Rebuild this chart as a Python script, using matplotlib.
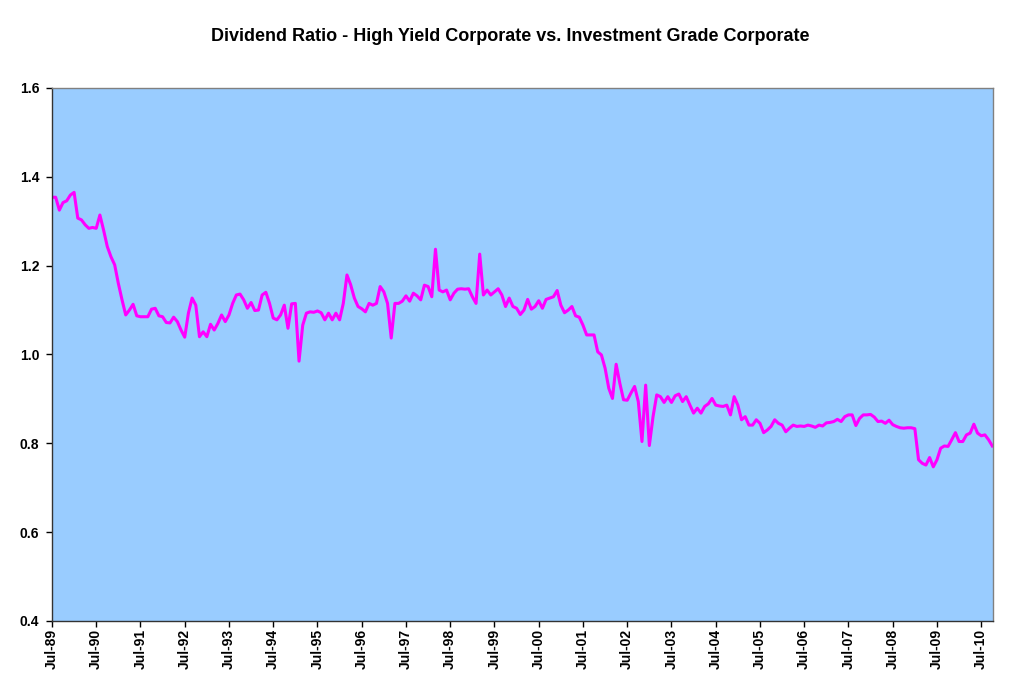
import matplotlib
matplotlib.use("Agg")
import matplotlib.pyplot as plt
import numpy as np

plt.rcParams['font.family'] = ['Liberation Sans', 'DejaVu Sans']

# Monthly dividend ratio, Jul-89 .. Oct-10
ratio = [
    1.354, 1.354, 1.325, 1.342, 1.346, 1.359, 1.365, 1.307, 1.303, 1.292, 1.284, 1.286,
    1.284, 1.314, 1.280, 1.243, 1.220, 1.202, 1.160, 1.123, 1.089, 1.100, 1.113, 1.087,
    1.085, 1.085, 1.085, 1.102, 1.104, 1.087, 1.085, 1.072, 1.071, 1.084, 1.074, 1.055,
    1.039, 1.093, 1.127, 1.111, 1.040, 1.051, 1.040, 1.068, 1.055, 1.070, 1.089, 1.074,
    1.089, 1.115, 1.134, 1.136, 1.123, 1.104, 1.117, 1.099, 1.100, 1.134, 1.140, 1.115,
    1.082, 1.078, 1.089, 1.111, 1.059, 1.114, 1.115, 0.985, 1.066, 1.093, 1.096, 1.095,
    1.098, 1.094, 1.078, 1.093, 1.078, 1.093, 1.078, 1.115, 1.179, 1.157, 1.127, 1.108,
    1.103, 1.096, 1.115, 1.111, 1.115, 1.153, 1.141, 1.115, 1.037, 1.115, 1.115, 1.120,
    1.132, 1.120, 1.138, 1.132, 1.123, 1.156, 1.153, 1.130, 1.237, 1.145, 1.141, 1.145,
    1.123, 1.138, 1.147, 1.148, 1.147, 1.148, 1.130, 1.115, 1.226, 1.134, 1.145, 1.134,
    1.141, 1.148, 1.134, 1.108, 1.127, 1.108, 1.104, 1.090, 1.100, 1.124, 1.102, 1.108,
    1.121, 1.104, 1.124, 1.127, 1.130, 1.144, 1.111, 1.094, 1.100, 1.108, 1.087, 1.084,
    1.066, 1.044, 1.044, 1.044, 1.006, 0.999, 0.969, 0.924, 0.901, 0.978, 0.935, 0.898,
    0.897, 0.913, 0.928, 0.894, 0.804, 0.931, 0.795, 0.860, 0.909, 0.905, 0.892, 0.905,
    0.892, 0.907, 0.911, 0.894, 0.905, 0.886, 0.868, 0.879, 0.868, 0.883, 0.889, 0.901,
    0.886, 0.884, 0.883, 0.886, 0.864, 0.905, 0.886, 0.853, 0.860, 0.841, 0.841, 0.853,
    0.845, 0.824, 0.830, 0.838, 0.853, 0.845, 0.841, 0.826, 0.834, 0.841, 0.838, 0.839,
    0.838, 0.841, 0.839, 0.836, 0.841, 0.839, 0.846, 0.847, 0.849, 0.854, 0.849, 0.860,
    0.864, 0.864, 0.840, 0.856, 0.864, 0.864, 0.865, 0.859, 0.849, 0.850, 0.845, 0.852,
    0.842, 0.838, 0.835, 0.834, 0.835, 0.835, 0.833, 0.763, 0.755, 0.751, 0.768, 0.747,
    0.763, 0.789, 0.794, 0.793, 0.808, 0.824, 0.804, 0.804, 0.819, 0.823, 0.843, 0.823,
    0.817, 0.819, 0.808, 0.794,
]

tick_labels = ["Jul-89", "Jul-90", "Jul-91", "Jul-92", "Jul-93", "Jul-94", "Jul-95",
               "Jul-96", "Jul-97", "Jul-98", "Jul-99", "Jul-00", "Jul-01", "Jul-02",
               "Jul-03", "Jul-04", "Jul-05", "Jul-06", "Jul-07", "Jul-08", "Jul-09",
               "Jul-10"]
y_ticks = [0.4, 0.6, 0.8, 1.0, 1.2, 1.4, 1.6]

months = np.arange(len(ratio))

fig = plt.figure(figsize=(10.23, 7.0), dpi=100)
ax = fig.add_axes([0.0508, 0.1129, 0.9199, 0.7614])
ax.set_facecolor('#99CCFF')

ax.plot(months, ratio, color='#FF00FF', linewidth=2.2, solid_joinstyle='round')

ax.set_xlim(0, 255.2)
ax.set_ylim(0.4, 1.6)
ax.set_yticks(y_ticks)
ax.set_yticklabels([f"{v:.1f}" for v in y_ticks], fontsize=10, fontweight='bold')
ax.set_xticks(np.arange(len(tick_labels)) * 12)
ax.set_xticklabels(tick_labels, rotation=90, fontsize=10, fontweight='bold')
ax.tick_params(axis='both', direction='out', length=4, width=1, color='black')
ax.tick_params(axis='x', pad=2)
ax.tick_params(axis='y', pad=5)

for side in ['top', 'right']:
    ax.spines[side].set_color('#808080')
    ax.spines[side].set_linewidth(1)
for side in ['left', 'bottom']:
    ax.spines[side].set_color('#333333')
    ax.spines[side].set_linewidth(1)

fig.text(0.499, 0.948, "Dividend Ratio - High Yield Corporate vs. Investment Grade Corporate",
         ha='center', va='center', fontsize=13, fontweight='bold')

fig.savefig('out.png', dpi=100)
